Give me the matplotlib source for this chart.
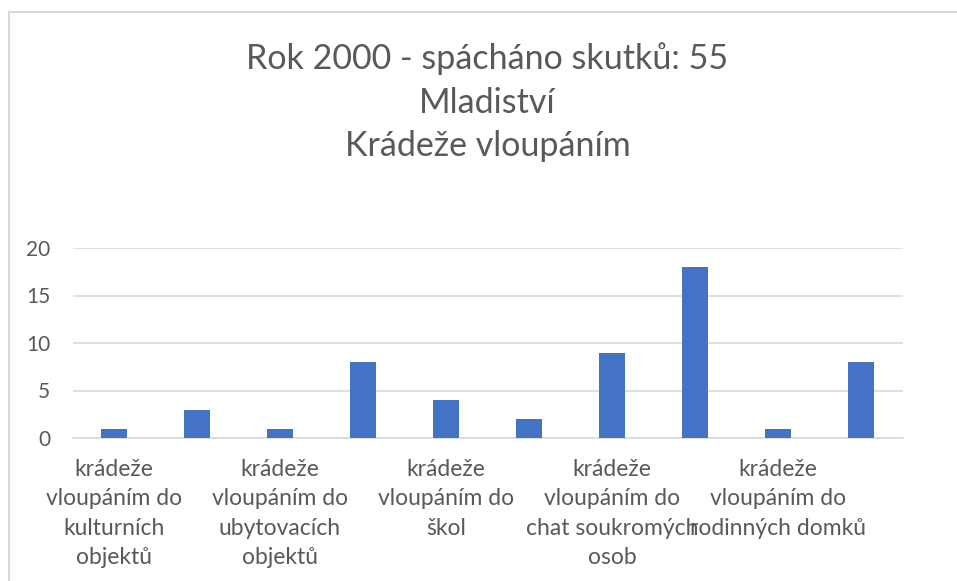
import matplotlib
matplotlib.use("Agg")
import matplotlib.pyplot as plt
from matplotlib.lines import Line2D
import numpy as np

# hodnoty z grafu
categories = ["krádeže\nvloupáním do\nkulturních\nobjektů", "",
              "krádeže\nvloupáním do\nubytovacích\nobjektů", "",
              "krádeže\nvloupáním do\nškol", "",
              "krádeže\nvloupáním do\nchat soukromých\nosob", "",
              "krádeže\nvloupáním do\nrodinných domků", ""]
values = [1, 3, 1, 8, 4, 2, 9, 18, 1, 8]
yticks = [0, 5, 10, 15, 20]
title = "Rok 2000 - spácháno skutků: 55\nMladiství\nKrádeže vloupáním"

plt.rcParams['font.family'] = ['Lato', 'DejaVu Sans']
textcol = '#595959'
gridcol = '#d9d9d9'

fig = plt.figure(figsize=(9.57, 5.81), dpi=100)
ax = fig.add_axes([72.5/957, 1-438/581, 830/957, 190/581])

x = np.arange(len(values))
ax.bar(x, values, width=0.31, color='#4472c4', zorder=3)
ax.set_xlim(-0.5, len(values)-0.5)
ax.set_ylim(0, 20)
ax.set_yticks(yticks)
ax.set_xticks(x)
ax.set_xticklabels(categories, fontsize=16.5, color=textcol, linespacing=1.5)
ax.tick_params(axis='x', length=0, pad=15)
ax.tick_params(axis='y', length=0, pad=16, labelsize=15, labelcolor=textcol)
ax.yaxis.grid(True, color=gridcol, linewidth=1.2, zorder=0)
for s in ['top', 'right', 'left']:
    ax.spines[s].set_visible(False)
ax.spines['bottom'].set_color(gridcol)
ax.spines['bottom'].set_linewidth(1.2)

fig.text(487.5/957, 1-42/581, title, ha='center', va='top', fontsize=24.5,
         color=textcol, linespacing=1.45)

# ramecek grafu
fig.add_artist(Line2D([8.5/957, 8.5/957], [0, 1-12/581], color=gridcol, linewidth=1.5))
fig.add_artist(Line2D([8.5/957, 1], [1-12/581, 1-12/581], color=gridcol, linewidth=1.5))

fig.savefig('out.png', dpi=100)
